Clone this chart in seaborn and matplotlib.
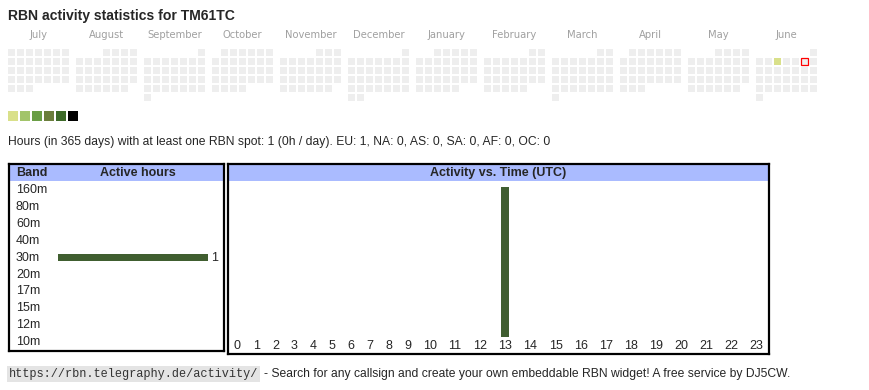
import numpy as np
import pandas as pd
import matplotlib.pyplot as plt
import matplotlib.transforms as mtransforms
import seaborn as sns

sns.set_style("white")
plt.rcParams['font.family'] = ['Liberation Sans', 'DejaVu Sans']

# Data
callsign = "TM61TC"
months = ["July", "August", "September", "October", "November", "December",
          "January", "February", "March", "April", "May", "June"]
first_day = "2024-07-01"
last_day = "2025-06-30"
today = "2025-06-07"
active_days = {"2025-06-04": 1}  # date -> activity level (1..6)
level_colors = ["#d9e08a", "#a2c46a", "#6a9e46", "#6b7e3c", "#3d6a28", "#000000"]
bar_color = "#3d6628"

bands = ["160m", "80m", "60m", "40m", "30m", "20m", "17m", "15m", "12m", "10m"]
band_hours = [0, 0, 0, 0, 1, 0, 0, 0, 0, 0]

hours = [str(h) for h in range(24)]
hour_activity = [0, 0, 0, 0, 0, 0, 0, 0, 0, 0, 0, 0, 0, 1, 0, 0, 0, 0, 0, 0, 0, 0, 0, 0]

summary = ("Hours (in 365 days) with at least one RBN spot: 1 (0h / day). "
           "EU: 1, NA: 0, AS: 0, SA: 0, AF: 0, OC: 0")
footer_url = "https://rbn.telegraphy.de/activity/"
footer_text = ("- Search for any callsign and create your own embeddable RBN widget! "
               "A free service by DJ5CW.")

header_blue = "#aabbff"
cell_grey = "#eeeeee"

# Figure in pixel layout
W, H = 870, 390
fig = plt.figure(figsize=(8.7, 3.9), dpi=100)


def px_axes(x0, y0, x1, y1):
    return fig.add_axes([x0 / W, 1 - y1 / H, (x1 - x0) / W, (y1 - y0) / H])


bg = px_axes(0, 0, W, H)
bg.set_xlim(0, W)
bg.set_ylim(H, 0)
bg.axis('off')

bg.text(8, 16, f"RBN activity statistics for {callsign}", fontsize=10.1,
        fontweight='bold', va='center')

# Calendar: one block per month, 7 weekday columns, one row per week
days = pd.DataFrame({'date': pd.date_range(first_day, last_day)})
start = pd.Timestamp(first_day)
days['month_i'] = (days.date.dt.year * 12 + days.date.dt.month) - (start.year * 12 + start.month)
days['wd'] = days.date.dt.weekday
offset = (days.wd - (days.date.dt.day - 1)) % 7
days['week'] = (days.date.dt.day - 1 + offset) // 7
days['key'] = days.date.dt.strftime('%Y-%m-%d')
days['color'] = [level_colors[active_days[k] - 1] if k in active_days else cell_grey
                 for k in days.key]
cx = 8 + days.month_i * 68 + days.wd * 9
cy = 49 + days.week * 9
bg.bar(cx, 7, width=7, bottom=cy, align='edge', color=days.color, linewidth=0)
t = days[days.key == today]
bg.bar(8 + t.month_i * 68 + t.wd * 9, 7, width=7, bottom=49 + t.week * 9,
       align='edge', facecolor=cell_grey, edgecolor='red', linewidth=0.9)

for i, m in enumerate(months):
    bg.text(8 + i * 68 + 30.5, 35, m, color='#a0a0a0', fontsize=7.2,
            family='DejaVu Sans', ha='center', va='center')

# Level legend
for i, c in enumerate(level_colors):
    bg.bar(8 + i * 12, 10, width=10, bottom=111, align='edge', color=c, linewidth=0)

bg.text(8, 142.5, summary, fontsize=8.75, va='center')

# Table headers
bg.bar(9, 17, width=215, bottom=164, align='edge', color=header_blue, linewidth=0)
bg.bar(228, 17, width=541, bottom=164, align='edge', color=header_blue, linewidth=0)
bg.text(16, 173, "Band", fontsize=9, fontweight='bold', va='center')
bg.text(138, 173, "Active hours", fontsize=9, fontweight='bold', va='center', ha='center')
bg.text(498, 173, "Activity vs. Time (UTC)", fontsize=9, fontweight='bold',
        va='center', ha='center')

# Left panel: active hours per band
axl = px_axes(9, 164, 224, 351)
axl.patch.set_alpha(0)
sns.barplot(x=band_hours, y=bands, orient='h', width=0.385, color=bar_color,
            linewidth=0, errorbar=None, ax=axl)
bmax = max(band_hours)
axl.set_xlim((9 - 58) / 150 * bmax, (224 - 58) / 150 * bmax)
axl.set_ylim((351 - 190) / 16.9, (164 - 190) / 16.9)
axl.bar_label(axl.containers[0], labels=[str(v) if v else '' for v in band_hours],
              padding=2, fontsize=9)
lt = mtransforms.blended_transform_factory(axl.transAxes, axl.transData)
for i, b in enumerate(bands):
    axl.text(7 / 215, i, b, transform=lt, fontsize=9, va='center')

# Right panel: activity vs hour (column widths follow label widths, like the HTML table)
axr = px_axes(228, 164, 769, 354)
axr.patch.set_alpha(0)
col_w = np.array([12.8 + 6.2 * len(h) for h in hours])
total_w = col_w.sum()
centers = np.cumsum(col_w) - col_w / 2
bw = 8 * total_w / 541 / np.diff(centers).min()
sns.barplot(x=centers, y=hour_activity, native_scale=True, orient='x', width=bw,
            color=bar_color, linewidth=0, errorbar=None, ax=axr)
hmax = max(hour_activity)
axr.set_xlim(0, total_w)
axr.set_ylim((337 - 354) / 150 * hmax, (337 - 164) / 150 * hmax)
for c, h in zip(centers, hours):
    axr.text(c, -0.06 * hmax, h, ha='center', va='center', fontsize=9)

for ax in (axl, axr):
    ax.set_xticks([])
    ax.set_yticks([])
    ax.set_xlabel('')
    ax.set_ylabel('')
    for s in ax.spines.values():
        s.set_visible(True)
        s.set_color('black')
        s.set_linewidth(1.6)

# Footer
url = bg.text(9, 374, footer_url, family='Liberation Mono', fontsize=8.6, va='center',
              color='#333333', bbox=dict(facecolor='#e4e4e4', edgecolor='none', pad=1.2))
bg.annotate(footer_text, xy=(1, 0.5), xycoords=url, xytext=(4, 0),
            textcoords='offset points', va='center', fontsize=8.7)

fig.savefig('out.png', dpi=100)
